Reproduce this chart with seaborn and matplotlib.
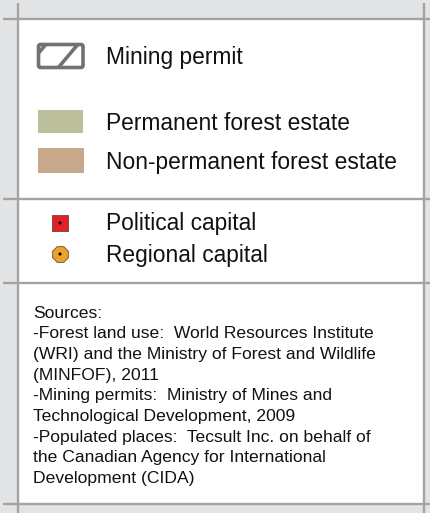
import matplotlib
matplotlib.use("Agg")
import matplotlib.pyplot as plt
from matplotlib.patches import Rectangle, FancyBboxPatch
import pandas as pd
import seaborn as sns

# Legend content
area_labels = ["Permanent forest estate", "Non-permanent forest estate"]
area_colors = ["#bdc09c", "#c8a88a"]

place_labels = ["Political capital", "Regional capital"]
place_colors = ["#e0212b", "#e8a32a"]
place_markers = ["s", "8"]

permit_label = "Mining permit"

source_lines = [
    "Sources:",
    "-Forest land use:  World Resources Institute",
    "(WRI) and the Ministry of Forest and Wildlife",
    "(MINFOF), 2011",
    "-Mining permits:  Ministry of Mines and",
    "Technological Development, 2009",
    "-Populated places:  Tecsult Inc. on behalf of",
    "the Canadian Agency for International",
    "Development (CIDA)",
]

sns.set_theme(style="white")
plt.rcParams["font.family"] = ["Liberation Sans", "DejaVu Sans"]

W, H = 431, 513
fig = plt.figure(figsize=(W / 100, H / 100), dpi=100)
fig.patch.set_facecolor("#e3e4e6")
ax = fig.add_axes([0, 0, 1, 1])
ax.set_xlim(0, W)
ax.set_ylim(H, 0)
ax.axis("off")

line_col = "#a3a3a3"
lw = 1.7

# white panel and frame
ax.add_patch(Rectangle((19, 19), 405, 485, facecolor="white", edgecolor="none", zorder=0))
for x in (18.5, 424.5):
    ax.plot([x, x], [3, H], color=line_col, lw=lw, solid_capstyle="butt", zorder=1)
for y in (19, 199, 283, 504):
    ax.plot([3, W], [y, y], color=line_col, lw=lw, solid_capstyle="butt", zorder=1)

text_x = 106
big = 16.4
small = 12.6
txt_col = "#111111"

# mining permit icon (outline with diagonal hatch)
icon = FancyBboxPatch((38.5, 44.5), 44.5, 23, boxstyle="round,pad=0,rounding_size=2",
                      facecolor="white", edgecolor="#727272", lw=2.6, zorder=2)
ax.add_patch(icon)
for x0 in (58, 26):
    ln, = ax.plot([x0, x0 + 21], [68, 43], color="#727272", lw=2.6, zorder=2)
    ln.set_clip_path(icon)
ax.text(text_x, 64, permit_label, fontsize=big, color=txt_col, va="baseline")

# forest estate swatches
area_y = [110, 148]
area_h = [23, 25]
for lab, col, y0, h, bl in zip(area_labels, area_colors, area_y, area_h, [130, 169]):
    ax.add_patch(Rectangle((38.5 if h == 23 else 38, y0), 44.5 if h == 23 else 46, h,
                           facecolor=col, edgecolor="none", zorder=2))
    ax.text(text_x, bl, lab, fontsize=big, color=txt_col, va="baseline")

# populated places
places = pd.DataFrame({"x": [60, 60], "y": [223, 254], "label": place_labels})
for (_, row), col, mk in zip(places.iterrows(), place_colors, place_markers):
    sns.scatterplot(x=[row["x"]], y=[row["y"]], ax=ax, marker=mk, s=125 if mk == "s" else 150,
                    color=col, edgecolor="#6a4a2a", linewidth=0.6, zorder=3)
    sns.scatterplot(x=[row["x"]], y=[row["y"]], ax=ax, marker="o", s=5,
                    color="black", edgecolor="none", zorder=4)
for lab, bl in zip(place_labels, [230, 262]):
    ax.text(text_x, bl, lab, fontsize=big, color=txt_col, va="baseline")

# sources
for i, line in enumerate(source_lines):
    ax.text(33, 317.5 + i * 20.7, line, fontsize=small, color=txt_col, va="baseline")

ax.set_xlim(0, W)
ax.set_ylim(H, 0)
fig.savefig("out.png", dpi=100, facecolor=fig.get_facecolor())
